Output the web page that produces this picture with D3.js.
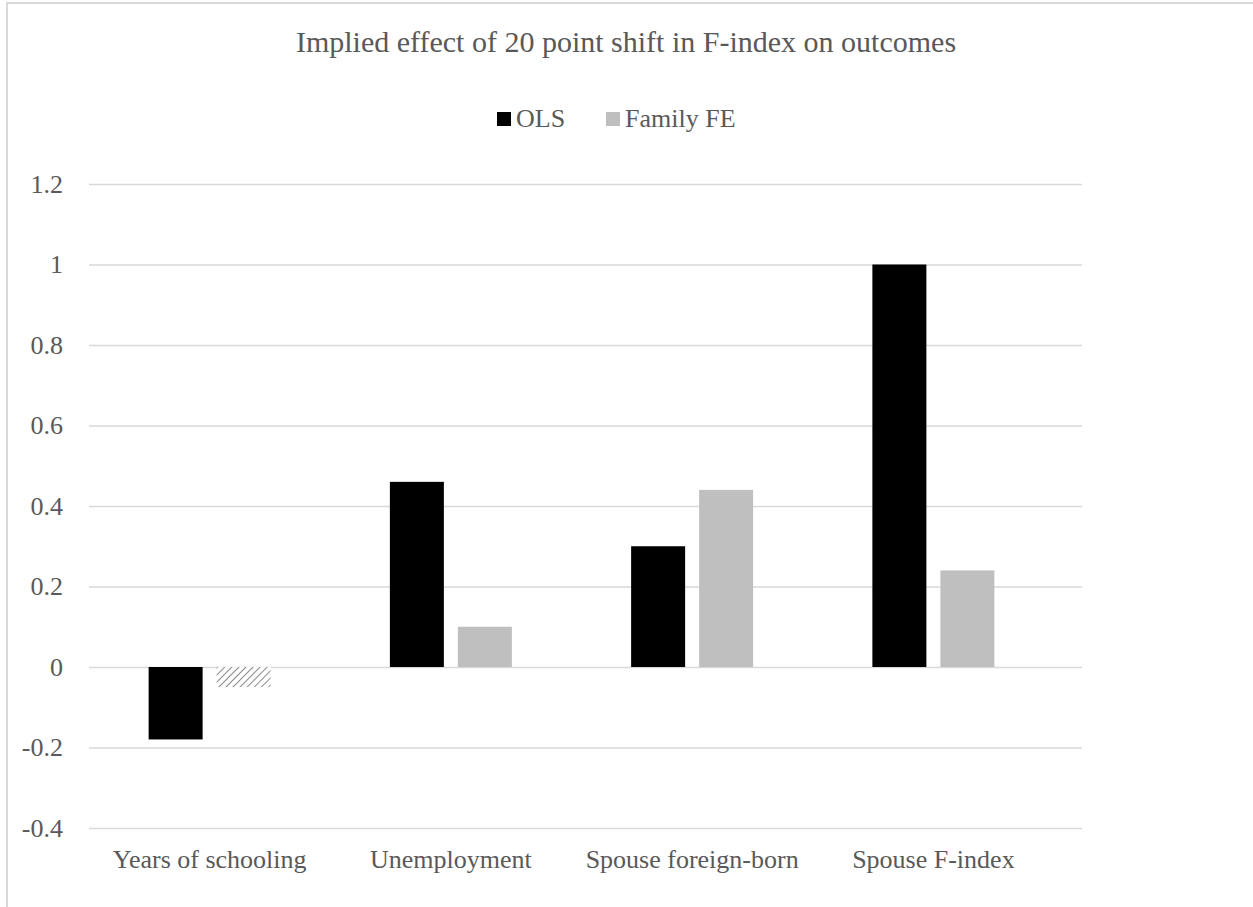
<!DOCTYPE html>
<html>
<head>
<meta charset="utf-8">
<script src="https://cdn.jsdelivr.net/npm/d3@7"></script>
<style>
  html, body { margin: 0; padding: 0; background: #fff; }
  svg { display: block; }
  text { font-family: "Liberation Serif", "Times New Roman", serif; fill: #595959; }
</style>
</head>
<body>
<svg id="chart" width="1253" height="907"></svg>
<script>
// Chart data
const categories = ["Years of schooling", "Unemployment", "Spouse foreign-born", "Spouse F-index"];
const seriesNames = ["OLS", "Family FE"];
const olsValues = [-0.18, 0.46, 0.30, 1.00];
const familyFEValues = [-0.05, 0.10, 0.44, 0.24];
// Family FE estimate that is not significant (drawn hatched)
const familyFEHatched = [true, false, false, false];
const yTicks = [-0.4, -0.2, 0, 0.2, 0.4, 0.6, 0.8, 1, 1.2];
const titleText = "Implied effect of 20 point shift in F-index on outcomes";

const svg = d3.select("#chart");
const W = 1253, H = 907;
const plot = { left: 89, right: 1054, gridRight: 1082, top: 184, bottom: 828 };
const serif = "'Liberation Serif', 'Times New Roman', serif";

// Chart frame
svg.append("rect")
  .attr("x", 7).attr("y", 3)
  .attr("width", W + 20).attr("height", H + 20)
  .attr("fill", "#fff").attr("stroke", "#d9d9d9").attr("stroke-width", 2);

// Hatch pattern
const defs = svg.append("defs");
const pat = defs.append("pattern")
  .attr("id", "hatch").attr("patternUnits", "userSpaceOnUse")
  .attr("width", 5).attr("height", 5)
  .attr("patternTransform", "rotate(45)");
pat.append("rect").attr("width", 5).attr("height", 5).attr("fill", "#fff");
pat.append("line").attr("x1", 0).attr("y1", 0).attr("x2", 0).attr("y2", 5)
  .attr("stroke", "#8c8c8c").attr("stroke-width", 2);

const y = d3.scaleLinear().domain([-0.4, 1.2]).range([plot.bottom, plot.top]);
const x0 = d3.scaleBand().domain(categories).range([plot.left, plot.right]).paddingInner(0).paddingOuter(0);
const groupW = 122;
const x1 = d3.scaleBand().domain(seriesNames).range([0, groupW]).paddingInner(14 / 68);

// Gridlines and y tick labels via axis
const yAxis = d3.axisLeft(y).tickValues(yTicks)
  .tickSize(-(plot.gridRight - plot.left))
  .tickPadding(26)
  .tickFormat(d => String(+d.toFixed(1)));
const gy = svg.append("g").attr("transform", `translate(${plot.left},0)`).call(yAxis);
gy.select(".domain").remove();
gy.selectAll(".tick line").attr("stroke", "#d9d9d9").attr("stroke-width", 1.5);
gy.selectAll(".tick text")
  .attr("font-size", 26).attr("fill", "#595959")
  .attr("font-family", serif);

// Bars
const rows = categories.map((c, i) => ({
  cat: c,
  vals: [
    { s: "OLS", v: olsValues[i], fill: "#000000" },
    { s: "Family FE", v: familyFEValues[i], fill: familyFEHatched[i] ? "url(#hatch)" : "#bfbfbf" }
  ]
}));

const groups = svg.append("g").selectAll("g").data(rows).join("g")
  .attr("transform", d => `translate(${x0(d.cat) + (x0.bandwidth() - groupW) / 2},0)`);
groups.selectAll("rect").data(d => d.vals).join("rect")
  .attr("x", d => x1(d.s))
  .attr("width", x1.bandwidth())
  .attr("y", d => y(Math.max(0, d.v)))
  .attr("height", d => Math.abs(y(d.v) - y(0)))
  .attr("fill", d => d.fill);

// Category labels
const gx = svg.append("g").attr("transform", `translate(0,${plot.bottom})`)
  .call(d3.axisBottom(x0).tickSize(0).tickPadding(22));
gx.select(".domain").remove();
gx.selectAll(".tick text")
  .attr("font-size", 26).attr("fill", "#595959")
  .attr("font-family", serif);

// Title
svg.append("text")
  .attr("x", 626).attr("y", 52)
  .attr("text-anchor", "middle")
  .attr("font-size", 30)
  .text(titleText);

// Legend
const legend = svg.append("g").attr("transform", "translate(497,127)");
const legendItems = [
  { name: "OLS", color: "#000000", x: 0 },
  { name: "Family FE", color: "#bfbfbf", x: 109 }
];
const li = legend.selectAll("g").data(legendItems).join("g")
  .attr("transform", d => `translate(${d.x},0)`);
li.append("rect").attr("x", 0).attr("y", -15).attr("width", 14).attr("height", 14)
  .attr("fill", d => d.color);
li.append("text").attr("x", 19).attr("y", 0).attr("font-size", 26).text(d => d.name);
</script>
</body>
</html>
